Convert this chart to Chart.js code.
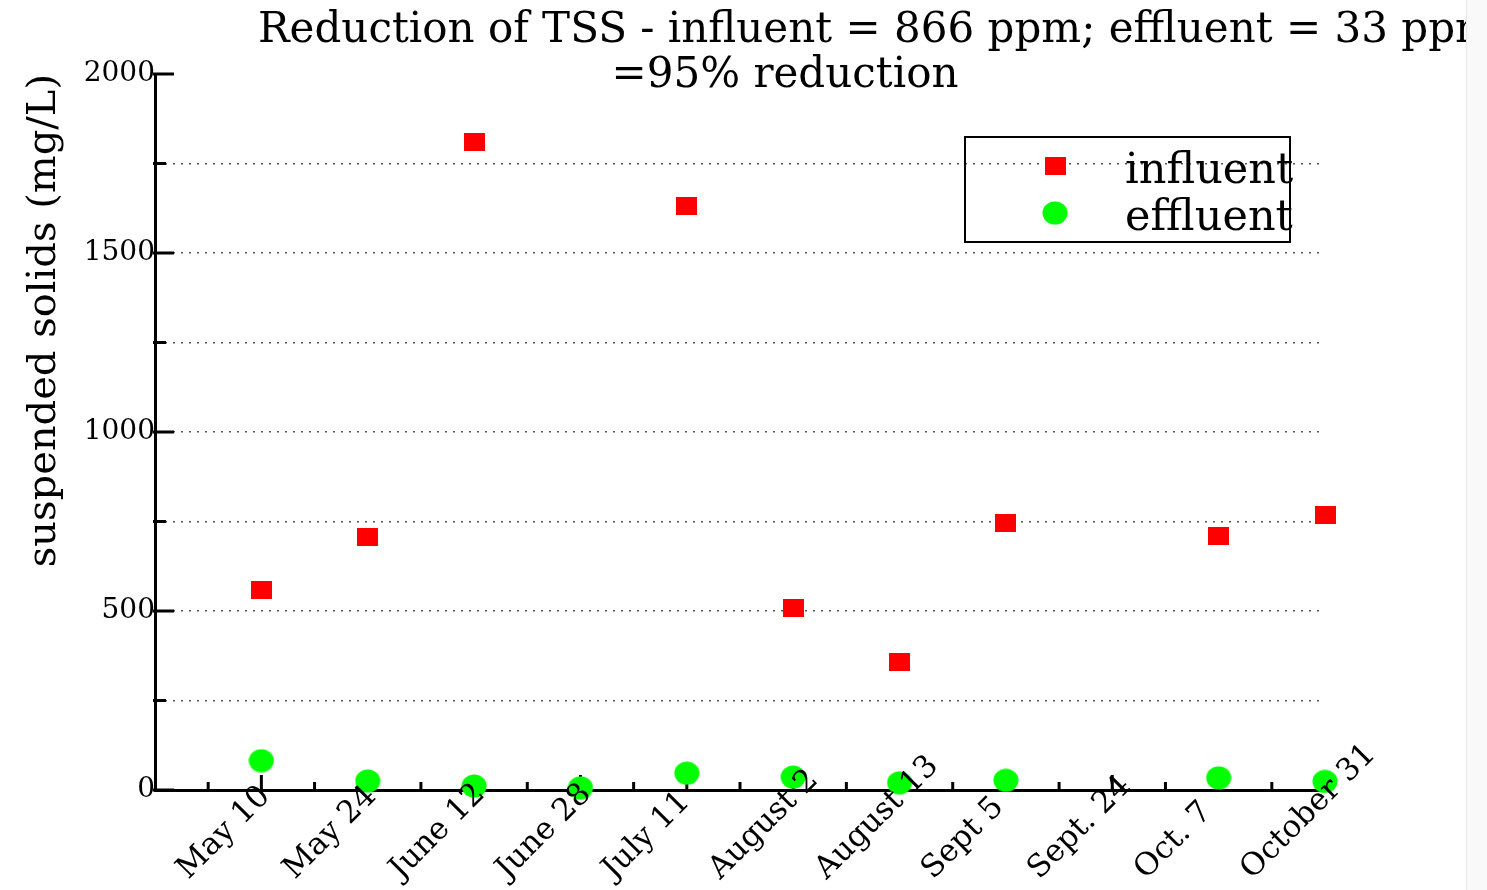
<!DOCTYPE html>
<html>
<head>
<meta charset="utf-8">
<script src="https://cdn.jsdelivr.net/npm/chart.js"></script>
<style>
html, body { margin: 0; padding: 0; background: #f9f9f9; overflow: hidden; }
#wrap { position: absolute; left: 0; top: 0; width: 1466px; height: 890px; background: #fff; border-right: 1px solid #e8e8e8; }
</style>
</head>
<body>
<div id="wrap"><canvas id="tss"></canvas></div>
<script>
var dates = ["May 10", "May 24", "June 12", "June 28", "July 11", "August 2", "August 13", "Sept 5", "Sept. 24", "Oct. 7", "October 31"];
var influent = [560, 708, 1810, null, 1631, 508, 358, 746, null, 709, 768];
var effluent = [82, 25, 11, 6, 47, 36, 20, 27, null, 34, 24];
var yMax = 2000;
var titleLine1 = "Reduction of TSS - influent = 866 ppm; effluent = 33 ppm";
var titleLine2 = "=95% reduction";
var yTitle = "suspended solids (mg/L)";
var serif = "'DejaVu Serif', serif";

// markers (squares are a bit wider than tall in the original)
var rectMarker = document.createElement('canvas');
rectMarker.width = 21; rectMarker.height = 18;
var rc = rectMarker.getContext('2d');
rc.fillStyle = '#ff0000';
rc.fillRect(0, 0, 21, 18);

var dotMarker = document.createElement('canvas');
dotMarker.width = 26; dotMarker.height = 24;
var dc = dotMarker.getContext('2d');
dc.fillStyle = '#00ff00';
dc.beginPath();
dc.ellipse(13, 12, 12.5, 11.5, 0, 0, Math.PI * 2);
dc.fill();

function toPoints(values) {
    var pts = [];
    for (var i = 0; i < values.length; i++) {
        if (values[i] != null) pts.push({ x: i, y: values[i] });
    }
    return pts;
}

// inward tick marks, like the original plot
var tickMarks = {
    id: 'tickMarks',
    beforeDatasetsDraw: function (chart) {
        var ctx = chart.ctx, xs = chart.scales.x, ys = chart.scales.y;
        ctx.save();
        ctx.strokeStyle = '#000';
        ctx.lineWidth = 3;
        ys.ticks.forEach(function (t) {
            var py = ys.getPixelForValue(t.value);
            var len = t.value % 500 === 0 ? 19 : 11;
            ctx.beginPath();
            ctx.moveTo(xs.left - 2, py);
            ctx.lineTo(xs.left + len, py);
            ctx.stroke();
        });
        xs.ticks.forEach(function (t) {
            if (t.value <= xs.min) return;
            var px = xs.getPixelForValue(t.value);
            var len = Number.isInteger(t.value) ? 15 : 8;
            ctx.beginPath();
            ctx.moveTo(px, ys.bottom);
            ctx.lineTo(px, ys.bottom - len);
            ctx.stroke();
        });
        ctx.restore();
    }
};

// texts: title, rotated date labels, legend box
var texts = {
    id: 'texts',
    afterDraw: function (chart) {
        var ctx = chart.ctx, xs = chart.scales.x;
        ctx.save();
        ctx.fillStyle = '#000';
        ctx.font = '42px ' + serif;
        ctx.textBaseline = 'alphabetic';
        ctx.textAlign = 'left';
        ctx.fillText(titleLine1, 258, 42);
        ctx.textAlign = 'center';
        ctx.fillText(titleLine2, 785, 87);

        // date labels start at a fixed offset left of their tick
        ctx.font = '31px ' + serif;
        ctx.textAlign = 'left';
        for (var i = 0; i < dates.length; i++) {
            var px = xs.getPixelForValue(i);
            ctx.save();
            ctx.translate(px - 73, xs.bottom - 10);
            ctx.rotate(-Math.PI / 4);
            ctx.fillText(dates[i], 0, 0);
            ctx.restore();
        }

        // legend
        var sets = chart.data.datasets;
        ctx.lineWidth = 2;
        ctx.strokeStyle = '#000';
        ctx.strokeRect(965, 137, 325, 105);
        ctx.font = '43px ' + serif;
        ctx.textAlign = 'left';
        for (var k = 0; k < sets.length; k++) {
            var cy = 166 + k * 47;
            var img = sets[k].pointStyle;
            ctx.drawImage(img, 1055 - img.width / 2, cy - img.height / 2);
            ctx.fillText(sets[k].label, 1125, cy + 17);
        }
        ctx.restore();
    }
};

new Chart(document.getElementById('tss'), {
    type: 'scatter',
    data: {
        datasets: [{
            label: 'influent',
            data: toPoints(influent),
            pointStyle: rectMarker,
            pointRadius: 10,
            clip: false
        }, {
            label: 'effluent',
            data: toPoints(effluent),
            pointStyle: dotMarker,
            pointRadius: 12,
            clip: false
        }]
    },
    options: {
        responsive: true,
        maintainAspectRatio: false,
        animation: false,
        layout: { padding: { top: 74, right: 141, left: 0, bottom: 0 } },
        plugins: {
            legend: { display: false },
            title: { display: false },
            tooltip: { enabled: false }
        },
        scales: {
            x: {
                type: 'linear',
                min: -1,
                max: dates.length - 1,
                afterFit: function (s) { s.height = 100; },
                ticks: { display: false, stepSize: 0.5, autoSkip: false, maxTicksLimit: 100 },
                grid: { display: false },
                border: { display: true, color: '#000', width: 3 }
            },
            y: {
                min: 0,
                max: yMax,
                afterFit: function (s) { s.width = 155; },
                ticks: {
                    stepSize: 250,
                    autoSkip: false,
                    padding: 0,
                    color: '#000',
                    font: { family: serif, size: 28 },
                    callback: function (v) { return v % 500 === 0 ? v : ''; }
                },
                grid: {
                    drawTicks: false,
                    lineWidth: 1.5,
                    color: function (c) {
                        var v = c.tick ? c.tick.value : 0;
                        return (v === 0 || v === yMax) ? 'rgba(0,0,0,0)' : '#555';
                    }
                },
                border: { display: true, color: '#000', width: 3, dash: [2, 6] },
                title: {
                    display: true,
                    text: yTitle,
                    align: 'end',
                    color: '#000',
                    font: { family: serif, size: 40 },
                    padding: { top: 21, bottom: 0 }
                }
            }
        }
    },
    plugins: [tickMarks, texts]
});
</script>
</body>
</html>
